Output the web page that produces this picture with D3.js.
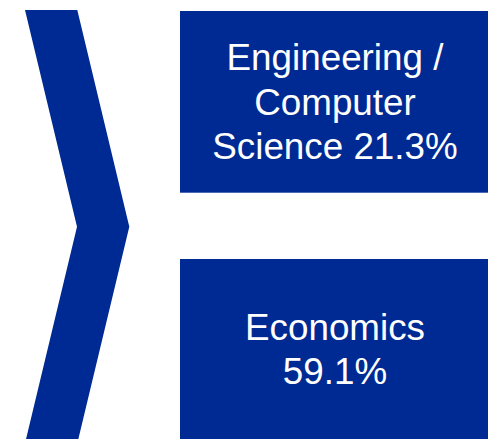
<!DOCTYPE html>
<html>
<head>
<meta charset="utf-8">
<script src="https://cdn.jsdelivr.net/npm/d3@7"></script>
<style>
  html, body { margin: 0; padding: 0; background: #fff; }
  svg { display: block; }
</style>
</head>
<body>
<div id="chart"></div>
<script>
(function () {

  // categories and their shares
  var categories = ['Engineering / Computer Science', 'Economics']
  var shares = [21.3, 59.1]
  // how each label breaks into lines
  var labelLines = [
    ['Engineering /', 'Computer', 'Science ' + shares[0] + '%'],
    ['Economics', shares[1] + '%']
  ]

  var width = 488,
      height = 439,
      blue = '#002a93'

  var svg = d3.select('#chart').append('svg')
    .attr('width', width)
    .attr('height', height)

  // chevron on the left
  var cx = d3.scaleLinear().domain([0, 1]).range([25, 77.3])
  var cy = d3.scaleLinear().domain([0, 1]).range([10, 226.7])
  var tip = 52
  var chevron = [
    [cx(0), cy(0)], [cx(1), cy(0)], [cx(1) + tip, cy(1)],
    [cx(1), cy(2)], [cx(0), cy(2)], [cx(0) + tip, cy(1)]
  ]
  svg.append('path')
    .attr('d', d3.line()(chevron) + 'Z')
    .attr('fill', blue)

  // boxes on the right
  var boxTops = [11, 259],
      boxHeights = [181.7, 180]

  var boxes = svg.selectAll('g.box')
    .data(categories)
    .enter().append('g')
    .attr('class', 'box')
    .attr('transform', (d, i) => 'translate(180,' + boxTops[i] + ')')

  boxes.append('rect')
    .attr('width', width - 180)
    .attr('height', (d, i) => boxHeights[i])
    .attr('fill', blue)

  var lh = 44.5
  boxes.append('text')
    .attr('fill', '#fff')
    .attr('text-anchor', 'middle')
    .style('font-family', 'Liberation Sans, Arial, sans-serif')
    .style('font-size', '36.8px')
    .each(function (d, i) {
      var lines = labelLines[i]
      var t = d3.select(this)
      var midY = boxHeights[i] / 2 + 13
      lines.forEach(function (line, j) {
        t.append('tspan')
          .attr('x', (width - 180) / 2 + 1)
          .attr('y', midY + (j - (lines.length - 1) / 2) * lh)
          .text(line)
      })
    })

})()
</script>
</body>
</html>
